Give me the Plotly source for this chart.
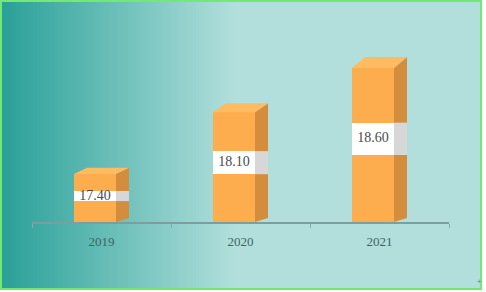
import plotly.graph_objects as go

# ---- data ----
years = ["2019", "2020", "2021"]
values = [17.40, 18.10, 18.60]

# ---- layout constants (pixels) ----
W, H = 486, 292
PLOT_L, PLOT_R = 32, 449
PLOT_T, PLOT_B = 22, 222
Y_MIN = 16.856
PX_PER_UNIT = 88.3
Y_MAX = Y_MIN + (PLOT_B - PLOT_T) / PX_PER_UNIT
X_RANGE = [-0.5, len(years) - 0.5]
XS = (X_RANGE[1] - X_RANGE[0]) / (PLOT_R - PLOT_L)   # data units per px (x)
YS = 1.0 / PX_PER_UNIT                                # data units per px (y)

FRONT_W = 42   # px
DEPTH_X = 13   # px
DEPTH_BOTTOM = 4
BAND_LO, BAND_HI = 0.435, 0.645

C_FRONT = "#fdad4d"
C_TOP = "#ffbb62"
C_SIDE = "#d48d3c"
C_BAND = "#ffffff"
C_BAND_SIDE = "#d7d7d7"

fig = go.Figure()

xs_idx = list(range(len(years)))
front_x = [i - DEPTH_X / 2 * XS for i in xs_idx]

# front faces
fig.add_trace(go.Bar(
    x=front_x, y=[v - Y_MIN for v in values], base=Y_MIN,
    width=FRONT_W * XS, marker=dict(color=C_FRONT, line=dict(width=0)),
    hoverinfo="skip", showlegend=False))

# white label band on front
fig.add_trace(go.Bar(
    x=front_x,
    y=[(v - Y_MIN) * (BAND_HI - BAND_LO) for v in values],
    base=[Y_MIN + (v - Y_MIN) * BAND_LO for v in values],
    width=FRONT_W * XS, marker=dict(color=C_BAND, line=dict(width=0)),
    hoverinfo="skip", showlegend=False))

for i, v in zip(xs_idx, values):
    h_px = (v - Y_MIN) * PX_PER_UNIT
    dt = 4 + 0.045 * h_px
    L = front_x[i] - FRONT_W / 2 * XS
    R = front_x[i] + FRONT_W / 2 * XS
    dx = DEPTH_X * XS
    # side face
    fig.add_trace(go.Scatter(
        x=[R, R + dx, R + dx, R, R],
        y=[Y_MIN, Y_MIN + DEPTH_BOTTOM * YS, v + dt * YS, v, Y_MIN],
        mode="lines", fill="toself", fillcolor=C_SIDE, line=dict(width=0),
        hoverinfo="skip", showlegend=False))
    # top face
    fig.add_trace(go.Scatter(
        x=[L, R, R + dx, L + dx, L],
        y=[v, v, v + dt * YS, v + dt * YS, v],
        mode="lines", fill="toself", fillcolor=C_TOP, line=dict(width=0),
        hoverinfo="skip", showlegend=False))
    # band on side
    bb = Y_MIN + (v - Y_MIN) * BAND_LO
    bt = Y_MIN + (v - Y_MIN) * BAND_HI
    fig.add_trace(go.Scatter(
        x=[R, R + dx, R + dx, R, R],
        y=[bb, bb, bt, bt, bb],
        mode="lines", fill="toself", fillcolor=C_BAND_SIDE, line=dict(width=0),
        hoverinfo="skip", showlegend=False))

# value labels
fig.add_trace(go.Scatter(
    x=front_x,
    y=[Y_MIN + (v - Y_MIN) * (BAND_LO + BAND_HI) / 2 for v in values],
    mode="text", text=[f"{v:.2f}" for v in values],
    textfont=dict(family="Liberation Serif", size=14, color="#4a4a4a"),
    hoverinfo="skip", showlegend=False))

# background gradient (left teal -> light) and border
shapes = []
c0 = (40, 160, 151)
c1 = (178, 223, 220)
GRAD_END = 235
n = 90
for k in range(n):
    x0 = k * GRAD_END / n
    t = (k + 0.5) / n
    col = tuple(round(c0[j] + (c1[j] - c0[j]) * t) for j in range(3))
    shapes.append(dict(type="rect", xref="paper", yref="paper",
                       x0=x0 / W, x1=481 / W, y0=1 - 289 / H, y1=1 - 1 / H,
                       fillcolor="rgb(%d,%d,%d)" % col, line=dict(width=0),
                       layer="below"))
shapes.append(dict(type="rect", xref="paper", yref="paper",
                   x0=GRAD_END / W, x1=481 / W, y0=1 - 289 / H, y1=1 - 1 / H,
                   fillcolor="rgb(%d,%d,%d)" % c1, line=dict(width=0),
                   layer="below"))
shapes.append(dict(type="rect", xref="paper", yref="paper",
                   x0=1 / W, x1=481 / W, y0=1 - 289 / H, y1=1 - 1 / H,
                   fillcolor="rgba(0,0,0,0)", line=dict(width=2, color="#73e873"),
                   layer="below"))

fig.update_layout(
    width=W, height=H,
    margin=dict(l=0, r=0, t=0, b=0),
    paper_bgcolor="white", plot_bgcolor="rgba(0,0,0,0)",
    barmode="overlay", bargap=0,
    shapes=shapes,
    showlegend=False,
    xaxis=dict(
        domain=[PLOT_L / W, PLOT_R / W], range=X_RANGE,
        tickvals=xs_idx, ticktext=years, ticks="",
        ticklabelstandoff=6,
        showgrid=False, zeroline=False,
        showline=True, linecolor="#7d9e9e", linewidth=2,
        tickfont=dict(family="Liberation Serif", size=13, color="#3d6464"),
        minor=dict(tickvals=[-0.5, 0.5, 1.5, 2.5], ticks="outside",
                   ticklen=4, tickcolor="#8aa8a8", tickwidth=1, showgrid=False),
        fixedrange=True),
    yaxis=dict(
        domain=[1 - PLOT_B / H, 1 - PLOT_T / H], range=[Y_MIN, Y_MAX],
        visible=False, showgrid=False, zeroline=False, fixedrange=True),
)

fig.add_annotation(x=484 / W, y=1 - 288 / H, xref="paper", yref="paper",
                   text="+", showarrow=False,
                   font=dict(size=8, color="#777777"))

fig.write_html("out.html")
